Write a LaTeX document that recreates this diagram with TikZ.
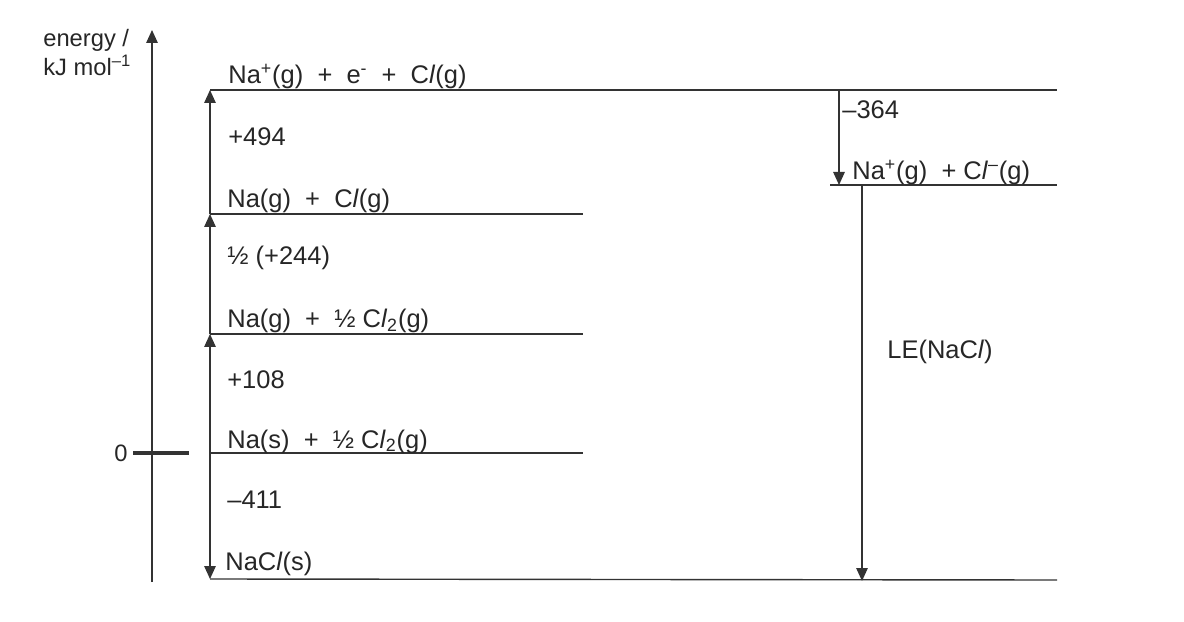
\documentclass[tikz,border=0pt]{standalone}
\usepackage{fontspec}
\setmainfont{Liberation Sans}
\usetikzlibrary{arrows.meta}
\tikzset{
  lvl/.style={line width=0.8pt,black!80},
  enarr/.style={line width=0.8pt,black!80,-{Triangle[length=2.6mm,width=2.3mm]}},
  spc/.style={anchor=base west,inner sep=0pt,text=black!85,font=\fontsize{14.5}{17}\selectfont},
  val/.style={anchor=west,inner sep=0pt,text=black!85,font=\fontsize{14.5}{17}\selectfont},
}
\begin{document}
\begin{tikzpicture}[x=0.2mm,y=-0.2mm]
\useasboundingbox (0,0) rectangle (1184,622);
% energy axis
\coordinate (axlo) at (152,582);
\coordinate (axhi) at (152,30);
\draw[enarr] (axlo) -- (axhi);
\node[spc,font=\fontsize{13.5}{16}\selectfont] (axname) at (43,47) {energy /};
\node[spc,font=\fontsize{13.5}{16}\selectfont] (axunit) at (43,76) {kJ mol\textsuperscript{–1}};
\coordinate (zl) at (133,453);
\coordinate (zr) at (189,453);
\draw[line width=2pt,black!80] (zl) -- (zr);
\node[anchor=east,inner sep=0pt,text=black!85,font=\fontsize{13.5}{16}\selectfont] (zero) at (128,453) {0};
% levels
\coordinate (ion) at (210,90);   \coordinate (ionR) at (1057,90);
\coordinate (atm) at (210,214);  \coordinate (atmR) at (583,214);
\coordinate (nag) at (210,334);  \coordinate (nagR) at (583,334);
\coordinate (nas) at (210,453);  \coordinate (nasR) at (583,453);
\coordinate (salt) at (210,579); \coordinate (saltR) at (1057,580);
\coordinate (gas) at (830,185);  \coordinate (gasR) at (1057,185);
\draw[lvl] (ion) -- (ionR);
\draw[lvl] (atm) -- (atmR);
\draw[lvl] (nag) -- (nagR);
\draw[lvl] (nas) -- (nasR);
\draw[lvl] (salt) -- (saltR);
\draw[lvl] (gas) -- (gasR);
\node[spc] (tion) at (228,84) {Na\textsuperscript{+}(g)\ \ +\ \ e\textsuperscript{-}\ \ +\ \ C\textit{l}(g)};
\node[spc] (tatm) at (227,208) {Na(g)\ \ +\ \ C\textit{l}(g)};
\node[spc] (tnag) at (227,328) {Na(g)\ \ +\ \ ½ C\textit{l}\textsubscript{2}(g)};
\node[spc] (tnas) at (227,448) {Na(s)\ \ +\ \ ½ C\textit{l}\textsubscript{2}(g)};
\node[spc] (tsalt) at (225,570) {NaC\textit{l}(s)};
\node[spc] (tgas) at (852,180) {Na\textsuperscript{+}(g)\ \ + C\textit{l}\textsuperscript{–}(g)};
% steps
\draw[enarr] (nas) -- (nag);
\draw[enarr] (nag) -- (atm);
\draw[enarr] (atm) -- (ion);
\draw[enarr] (nas) -- (salt);
\coordinate (eaTop) at (839,90);  \coordinate (eaBot) at (839,185);
\draw[enarr] (eaTop) -- (eaBot);
\coordinate (leTop) at (862,185); \coordinate (leBot) at (862,581);
\draw[enarr] (leTop) -- (leBot);
\node[val] (v494) at (228,137) {+494};
\node[val] (v244) at (227,258) {½ (+244)};
\node[val] (v108) at (227,380) {+108};
\node[val] (v411) at (227,500) {–411};
\node[val] (v364) at (842,110) {–364};
\node[val] (vle) at (887,352) {LE(NaC\textit{l})};
\end{tikzpicture}
\end{document}
